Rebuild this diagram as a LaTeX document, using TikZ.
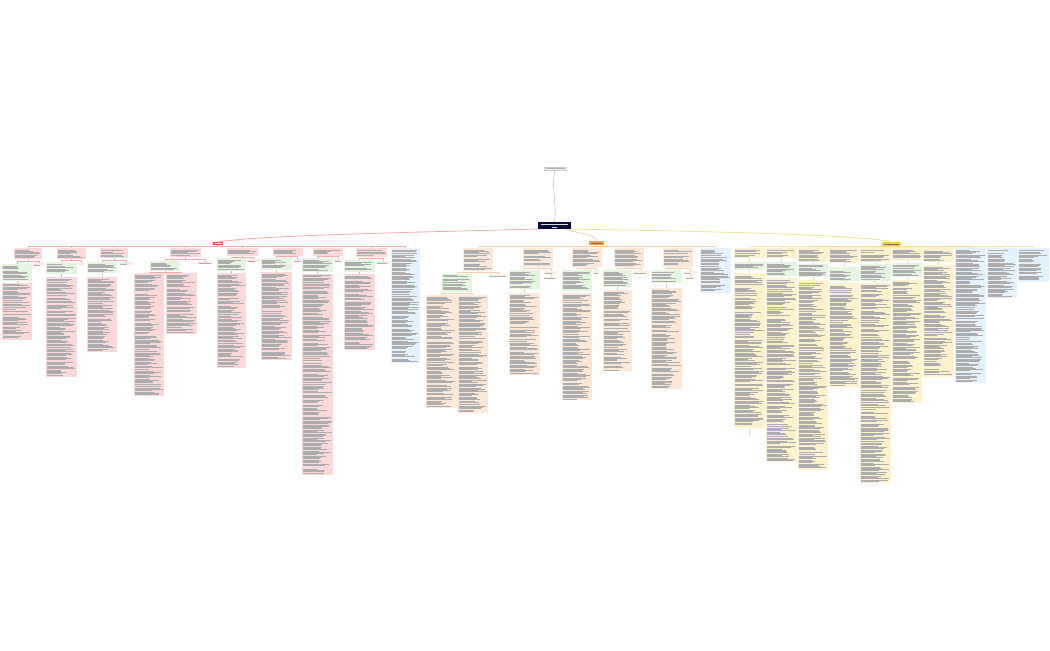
\documentclass[tikz,border=0pt]{standalone}
\usetikzlibrary{calc}
\definecolor{pinkF}{HTML}{FDD8D8}
\definecolor{greenF}{HTML}{E4F5DF}
\definecolor{orangeF}{HTML}{FDE8D8}
\definecolor{yellowF}{HTML}{FDF2CC}
\definecolor{blueF}{HTML}{E3F2FD}
\definecolor{sidePink}{HTML}{FEE6E6}
\definecolor{sideOrange}{HTML}{FEEFE3}
\definecolor{redL}{HTML}{F6A9A9}
\definecolor{orangeL}{HTML}{F8CFA8}
\definecolor{yellowL}{HTML}{F5E08F}
\definecolor{redT}{HTML}{F2474A}
\definecolor{orangeT}{HTML}{F4A04E}
\definecolor{yellowT}{HTML}{F8D42C}
\definecolor{navyT}{HTML}{0B0B3B}
\tikzset{
  boxbase/.style={rectangle, inner sep=0pt, outer sep=0pt, draw=none},
  pinkbox/.style={boxbase, fill=pinkF},
  greenbox/.style={boxbase, fill=greenF},
  orangebox/.style={boxbase, fill=orangeF},
  yellowbox/.style={boxbase, fill=yellowF},
  bluebox/.style={boxbase, fill=blueF},
  pinkside/.style={boxbase, fill=sidePink},
  orangeside/.style={boxbase, fill=sideOrange},
  greek/.style={line width=0.32mm, draw=black!32},
  redbar/.style={draw=redL, line width=0.8mm},
  orangebar/.style={draw=orangeL, line width=0.8mm},
  yellowbar/.style={draw=yellowL, line width=0.8mm},
  redthin/.style={draw=redL, line width=0.45mm},
  orangethin/.style={draw=orangeL, line width=0.45mm},
  yellowthin/.style={draw=yellowL, line width=0.45mm},
}
% name, style, x1, y1, x2, y2
\newcommand\gbox[6]{%
  \node[#2, anchor=north west, minimum width={(#5-#3)*1mm}, minimum height={(#6-#4)*1mm}] (#1) at (#3,#4) {};
  \pgfmathtruncatemacro\myGn{max(1,floor((#6-#4-1.6)/1.3))}%
  \foreach \myGi in {1,...,\myGn}{%
    \pgfmathsetmacro\myGl{rnd<0.09 ? 0 : (#5-#3-2.4)*(0.45+0.55*rnd)}%
    \draw[greek] ({#3+1.2},{#4+0.45+\myGi*1.3}) -- ++(\myGl,0);
  }}
% style, parent, bar y, child
\newcommand\tconn[4]{\draw[#1] (#2.south) -- (#2.south |- 0,#3) -| (#4.north);}
\begin{document}
\begin{tikzpicture}[x=1mm, y=-1mm]
\pgfmathsetseed{7}
\fill[white] (0,0) rectangle (1050,650);
\useasboundingbox (0,0) rectangle (1050,650);

% ---- top and main nodes
\node[boxbase, fill=gray!12, draw=gray!40, line width=0.25mm, anchor=north west, minimum width=22mm, minimum height=3mm] (tn) at (544,167) {};
\draw[line width=0.35mm, draw=gray!60] (545.5,168.5) -- (564.5,168.5);
\node[boxbase, fill=navyT, anchor=north west, minimum width=33mm, minimum height=7mm] (mn) at (538,222) {};
\draw[line width=0.45mm, white!85!navyT] (541,224.5) -- (568,224.5);
\draw[line width=0.45mm, white!85!navyT] (552,227) -- (557,227);

% ---- branch labels
\node[boxbase, fill=redT, anchor=north west, minimum width=10mm, minimum height=3mm] (rl) at (213,242) {};
\draw[line width=0.4mm, white] (214.5,243.5) -- (221.5,243.5);
\node[boxbase, fill=orangeT, anchor=north west, minimum width=15mm, minimum height=4mm] (ol) at (589,241) {};
\draw[line width=0.4mm, black!55] (591,243) -- (602,243);
\node[boxbase, fill=yellowT, anchor=north west, minimum width=19mm, minimum height=4mm] (yl) at (882,242) {};
\draw[line width=0.4mm, black!55] (884,244) -- (899,244);

% ---- main connectors
\draw[draw=gray!60, line width=0.4mm] (tn.south) .. controls (551,185) and (557,205) .. (mn.north);
\draw[redbar] (mn.south west) .. controls (430,232) and (260,235) .. (rl.north);
\draw[orangebar] ($(mn.south)+(10,0)$) .. controls (580,234) and (596,234) .. (ol.north);
\draw[yellowbar] (mn.south east) .. controls (680,231) and (860,234) .. (yl.north);

% ================= RED BRANCH
\gbox{r1p}{pinkbox}{14}{248}{42}{259}
\gbox{r1g}{greenbox}{2}{264}{32}{281}
\gbox{r1s}{pinkside}{33}{263}{45}{265.5}
\gbox{r1b}{pinkbox}{2}{282.5}{32}{340}
\gbox{r2p}{pinkbox}{57}{248}{86}{259}
\gbox{r2g}{greenbox}{46}{262}{77}{274}
\gbox{r2s}{pinkside}{78}{262}{84}{264.5}
\gbox{r2b}{pinkbox}{46}{277}{77}{377}
\gbox{r3p}{pinkbox}{100}{248}{128}{258}
\gbox{r3g}{greenbox}{87}{262}{117}{273}
\gbox{r3s}{pinkside}{119}{262}{133}{264.5}
\gbox{r3b}{pinkbox}{87}{277}{117}{352}
\gbox{r4p}{pinkbox}{170}{248}{201}{257}
\gbox{r4g}{greenbox}{150}{261}{180}{271}
\gbox{r4s}{pinkside}{198}{261}{213}{263.5}
\gbox{r4b}{pinkbox}{134}{273}{164}{396}
\gbox{r4c}{pinkbox}{166}{273}{197}{334}
\gbox{r5p}{pinkbox}{227}{248}{258}{256}
\gbox{r5g}{greenbox}{217}{258}{246}{271}
\gbox{r5s}{pinkside}{247}{259}{260}{261.5}
\gbox{r5b}{pinkbox}{217}{273}{246}{368}
\gbox{r6p}{pinkbox}{273}{248}{303}{255.5}
\gbox{r6g}{greenbox}{261}{258}{292}{270}
\gbox{r6s}{pinkside}{293}{259}{302}{261.5}
\gbox{r6b}{pinkbox}{261}{272}{292}{360}
\gbox{r7p}{pinkbox}{313}{248}{343}{255.5}
\gbox{r7g}{greenbox}{302}{258}{333}{272}
\gbox{r7s}{pinkside}{334}{259}{343}{261.5}
\gbox{r7b}{pinkbox}{302}{273.5}{333}{475}
\gbox{r8p}{pinkbox}{356}{248}{387}{257}
\gbox{r8g}{greenbox}{344}{260}{375}{272}
\gbox{r8s}{pinkside}{376}{261}{390}{263.5}
\gbox{r8b}{pinkbox}{344}{274}{375}{350}
\gbox{r9}{bluebox}{391}{248}{420}{363}

\foreach \n in {r1p,r2p,r3p,r4p,r5p,r6p,r7p,r8p,r9}
  \draw[redbar, rounded corners=1] (rl.south) -- ++(0,1.5) -| (\n.north);
\tconn{redthin}{r1p}{261.5}{r1g} \tconn{redthin}{r1p}{261.5}{r1s} \tconn{redthin}{r1g}{281.7}{r1b}
\tconn{redthin}{r2p}{260.5}{r2g} \tconn{redthin}{r2p}{260.5}{r2s} \tconn{redthin}{r2g}{275.5}{r2b}
\tconn{redthin}{r3p}{260}{r3g} \tconn{redthin}{r3p}{260}{r3s} \tconn{redthin}{r3g}{275}{r3b}
\tconn{redthin}{r4p}{259}{r4g} \tconn{redthin}{r4p}{259}{r4s} \tconn{redthin}{r4g}{272}{r4b} \tconn{redthin}{r4g}{272}{r4c}
\tconn{redthin}{r5p}{257}{r5g} \tconn{redthin}{r5p}{257}{r5s} \tconn{redthin}{r5g}{272}{r5b}
\tconn{redthin}{r6p}{256.7}{r6g} \tconn{redthin}{r6p}{256.7}{r6s} \tconn{redthin}{r6g}{271}{r6b}
\tconn{redthin}{r7p}{256.7}{r7g} \tconn{redthin}{r7p}{256.7}{r7s} \tconn{redthin}{r7g}{272.7}{r7b}
\tconn{redthin}{r8p}{258.5}{r8g} \tconn{redthin}{r8p}{258.5}{r8s} \tconn{redthin}{r8g}{273}{r8b}

% ================= ORANGE BRANCH
\gbox{o1p}{orangebox}{463}{248}{493}{271}
\gbox{o1g}{greenbox}{442}{273.5}{472}{292}
\gbox{o1s}{orangeside}{488}{274}{508}{276.5}
\gbox{o1b}{orangebox}{426}{295}{456.6}{408}
\gbox{o1c}{orangebox}{457.4}{295}{488}{413}
\gbox{o2p}{orangebox}{523}{248}{553}{267}
\gbox{o2g}{greenbox}{509}{270}{540}{289}
\gbox{o2s}{orangeside}{544}{271}{558}{273.5}
\gbox{o2t}{orangeside}{543}{276.5}{560}{279}
\gbox{o2b}{orangebox}{509}{293}{540}{375}
\gbox{o3p}{orangebox}{572}{248}{602}{267}
\gbox{o3g}{greenbox}{562}{270}{592}{291}
\gbox{o3s}{orangeside}{593}{271}{600}{273.5}
\gbox{o3b}{orangebox}{562}{293}{592}{400}
\gbox{o4p}{orangebox}{614}{248}{644}{267}
\gbox{o4g}{greenbox}{603}{270}{632}{287}
\gbox{o4s}{orangeside}{633}{271}{650}{273.5}
\gbox{o4b}{orangebox}{603}{290}{632}{371}
\gbox{o5p}{orangebox}{663}{248}{693}{267}
\gbox{o5g}{greenbox}{651}{270}{682}{283}
\gbox{o5s}{orangeside}{683}{271}{698}{273.5}
\gbox{o5t}{orangeside}{685}{276.5}{697}{279}
\gbox{o5b}{orangebox}{651}{288}{682}{389}
\gbox{o6}{bluebox}{700}{248}{731}{293}

\foreach \n in {o1p,o2p,o3p,o4p,o5p,o6}
  \draw[orangebar, rounded corners=1] (ol.south) -- ++(0,1.5) -| (\n.north);
\tconn{orangethin}{o1p}{272.2}{o1g} \tconn{orangethin}{o1p}{272.2}{o1s}
\tconn{orangethin}{o1g}{293.5}{o1b} \tconn{orangethin}{o1g}{293.5}{o1c}
\tconn{orangethin}{o2p}{268.5}{o2g} \tconn{orangethin}{o2p}{268.5}{o2s} \tconn{orangethin}{o2s}{275}{o2t} \tconn{orangethin}{o2g}{291}{o2b}
\tconn{orangethin}{o3p}{268.5}{o3g} \tconn{orangethin}{o3p}{268.5}{o3s} \tconn{orangethin}{o3g}{292}{o3b}
\tconn{orangethin}{o4p}{268.5}{o4g} \tconn{orangethin}{o4p}{268.5}{o4s} \tconn{orangethin}{o4g}{288.5}{o4b}
\tconn{orangethin}{o5p}{268.5}{o5g} \tconn{orangethin}{o5p}{268.5}{o5s} \tconn{orangethin}{o5s}{275}{o5t} \tconn{orangethin}{o5g}{285.5}{o5b}

% ================= YELLOW BRANCH
\gbox{y1p}{yellowbox}{734}{248}{765}{258}
\gbox{y1g}{greenbox}{734}{262}{765}{270}
\gbox{y1b}{yellowbox}{734}{273}{765}{428}
\coordinate (y1x) at (749.5,435);
\gbox{y2p}{yellowbox}{766}{248}{797}{258}
\gbox{y2g}{greenbox}{766}{262}{797}{276}
\gbox{y2b}{yellowbox}{766}{278}{797}{462}
\gbox{y3p}{yellowbox}{798}{248}{828}{262}
\gbox{y3g}{greenbox}{798}{263.5}{828}{277}
\gbox{y3b}{yellowbox}{798}{280}{828}{470}
\gbox{y4p}{yellowbox}{829}{248}{859}{263}
\gbox{y4g}{greenbox}{829}{267}{859}{281}
\gbox{y4b}{yellowbox}{829}{283}{859}{387}
\gbox{y5p}{yellowbox}{860}{248}{891}{262}
\gbox{y5g}{greenbox}{860}{264}{891}{281}
\gbox{y5b}{yellowbox}{860}{283}{891}{483}
\gbox{y6p}{yellowbox}{892}{248}{922}{260}
\gbox{y6g}{greenbox}{892}{263}{922}{277}
\gbox{y6b}{yellowbox}{892}{280}{922}{403}
\gbox{y7p}{yellowbox}{923}{248}{954}{262}
\gbox{y7b}{yellowbox}{923}{265}{954}{377}
\gbox{y8}{bluebox}{955}{248}{986}{383}
\gbox{y9}{bluebox}{987}{248}{1017}{298}
\gbox{y10}{bluebox}{1018}{248}{1049}{282}

\foreach \n in {y1p,y2p,y3p,y4p,y5p,y6p,y7p,y8,y9,y10}
  \draw[yellowbar, rounded corners=1] (yl.south) -- ++(0,0.8) -| (\n.north);
\tconn{yellowthin}{y1p}{260}{y1g} \tconn{yellowthin}{y1g}{271.5}{y1b}
\draw[yellowthin] (y1b.south) -- (y1x);
\tconn{yellowthin}{y2p}{260}{y2g} \tconn{yellowthin}{y2g}{277}{y2b}
\tconn{yellowthin}{y3p}{262.8}{y3g} \tconn{yellowthin}{y3g}{278.5}{y3b}
\tconn{yellowthin}{y4p}{265}{y4g} \tconn{yellowthin}{y4g}{282}{y4b}
\tconn{yellowthin}{y5p}{263}{y5g} \tconn{yellowthin}{y5g}{282}{y5b}
\tconn{yellowthin}{y6p}{261.5}{y6g} \tconn{yellowthin}{y6g}{278.5}{y6b}
\tconn{yellowthin}{y7p}{263.5}{y7b}
\end{tikzpicture}
\end{document}
